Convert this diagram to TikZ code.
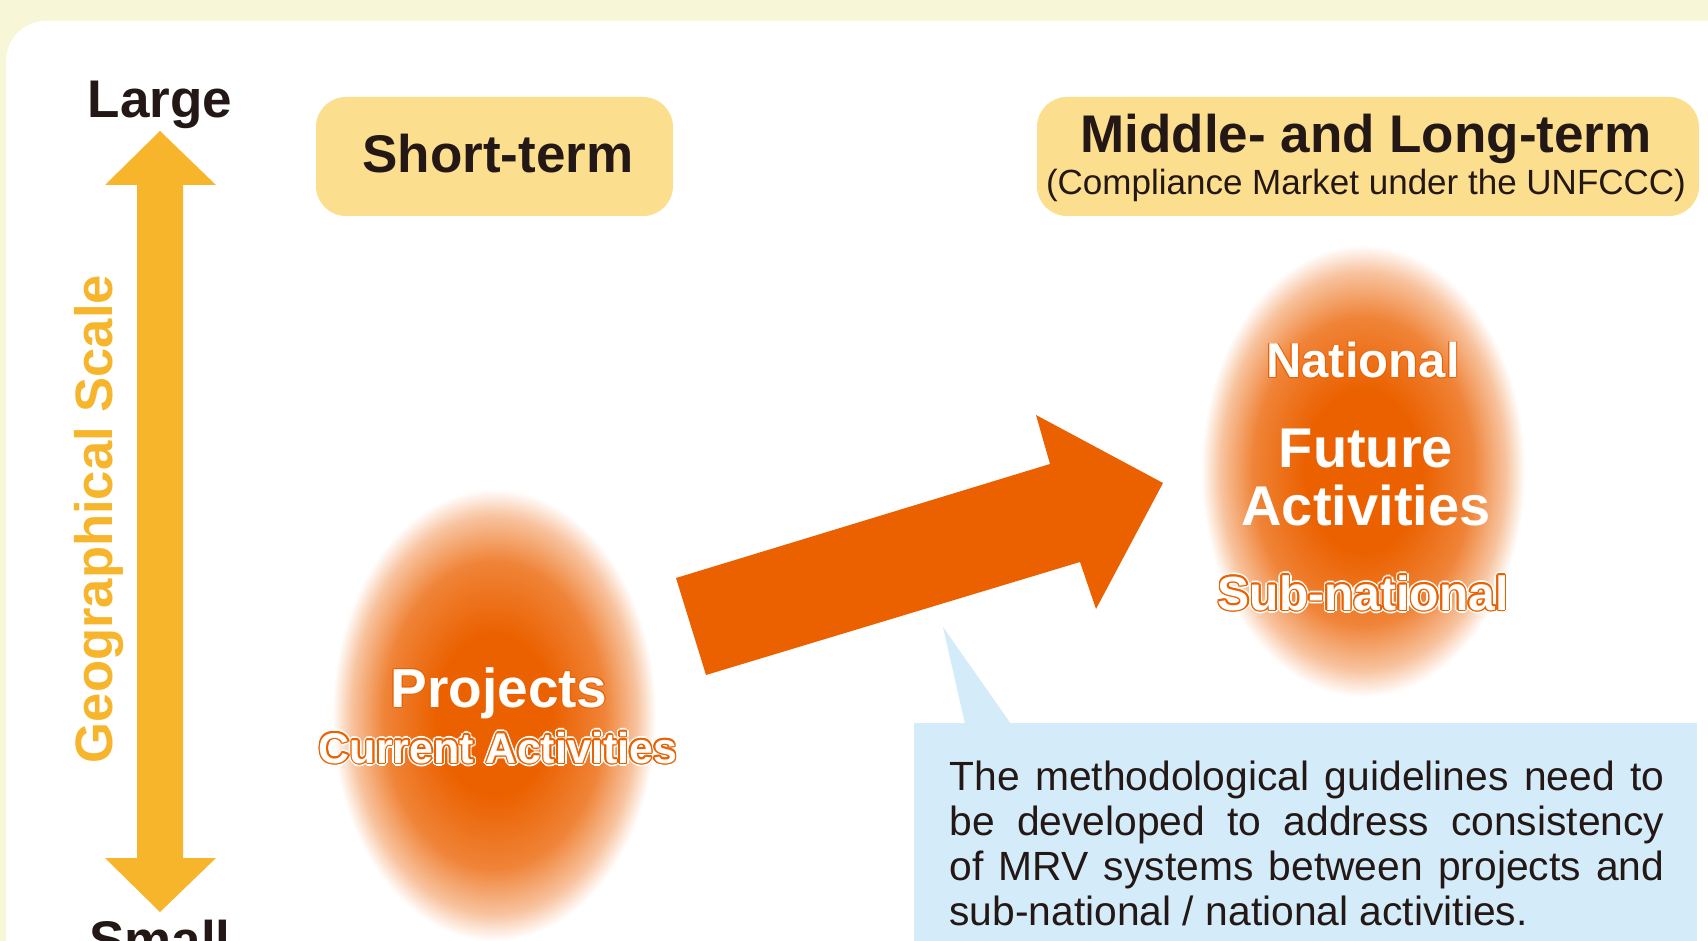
\documentclass[tikz,border=0pt]{standalone}
\usepackage{fontspec}
\setmainfont{Liberation Sans}
\definecolor{cream}{HTML}{F7F7D8}
\definecolor{boxfill}{HTML}{FBDE8E}
\definecolor{ylw}{HTML}{F7B52C}
\definecolor{ornA}{HTML}{EB6100}
\definecolor{sky}{HTML}{D4ECF9}
\definecolor{ink}{HTML}{231815}
\pgfdeclareradialshading{blob}{\pgfpointorigin}{color(0bp)=(ornA); color(9bp)=(ornA);
 color(17bp)=(ornA!78!white); color(22bp)=(ornA!38!white); color(25bp)=(white); color(50bp)=(white)}
% white text, orange rim (and a white halo)
\newcommand\rimtext[4]{%
 \foreach \a in {0,30,...,330}
 \node[#3,text=white,shift={(\a:1.6pt)}] at (#2) {#4};
 \foreach \a in {0,30,...,330}
 \node[#3,text=ornA,shift={(\a:.8pt)}] at (#2) {#4};
 \node[#3,text=white] (#1) at (#2) {#4};}
\newcommand\thintext[4]{%
 \foreach \a in {0,45,...,315}
 \node[#3,text=ornA,shift={(\a:.5pt)}] at (#2) {#4};
 \node[#3,text=white] (#1) at (#2) {#4};}
\begin{document}
\begin{tikzpicture}[x=.5pt,y=-.5pt,
 tag/.style={anchor=base,inner sep=0pt,text=ink,font=\fontsize{26.5}{30}\selectfont\bfseries},
 wt/.style={anchor=base,inner sep=0pt,font=\bfseries\fontsize{#1}{#1}\selectfont},
 term/.style={fill=boxfill,rounded corners=15pt,inner sep=0pt}]
 \useasboundingbox (0,0) rectangle (1708,941);
 \fill[cream] (0,0) rectangle (1708,941);
 \fill[white,rounded corners=20pt] (6,21) rectangle (1780,1000);
 % blobs
 \shade[shading=blob] (494,715) ellipse [x radius=162,y radius=226];
 \shade[shading=blob] (1363,471) ellipse [x radius=162,y radius=226];
 % arrows
 \fill[ylw] (160,131)--(216,185)--(183,185)--(183,858)--(216,858)--(160,912)
 --(105,858)--(137,858)--(137,185)--(105,185)--cycle;
 \fill[ornA] (676,578)--(1050,464)--(1036,415)--(1163,483)--(1096,609)
 --(1080,562)--(706,675)--cycle;
 % callout
 \fill[sky] (914,723) rectangle (1697,960);
 \fill[sky] (965,724)--(943,627)--(1011,724)--cycle;
 \node[term,minimum width=178.5pt,minimum height=59.5pt] (shortbox) at (494.5,156.5) {};
 \node[term,minimum width=331pt,minimum height=59.5pt] (longbox) at (1368,156.5) {};
 \path
 (160,118) node[tag] (large) {Large} % <<< top
 (160,958) node[tag] (small) {Small} % <<< bottom
 (498,173) node[tag] (short) {Short-term}
 (1366,153) node[tag] (long) {Middle- and Long-term}
 ++(0,42) node[tag,font=\fontsize{17.5}{20}\selectfont] (market) {(Compliance Market under the UNFCCC)}
 (112,519) node[tag,rotate=90,text=ylw,font=\fontsize{26.3}{30}\selectfont\bfseries] (geo) {Geographical Scale};
 \thintext{proj}{499,707}{wt=27.5}{Projects}
 \rimtext{curr}{498,763}{wt=21.5}{Current Activities}
 \thintext{nat}{1363,378}{wt=24.5}{National}
 \path
 (1366,467) node[wt=28,text=white] (fut) {Future}
 ++(0,58) node[wt=28,text=white] (act) {Activities};
 \rimtext{sub}{1363,610}{wt=24}{Sub-national}
 \node[anchor=base west,inner sep=0pt,text=ink,font=\fontsize{20.4}{22.5}\selectfont] (note) at (949,790)
 {\parbox[t]{357.5pt}{%
 \makebox[\linewidth][s]{The methodological guidelines need to}\\
 \makebox[\linewidth][s]{be developed to address consistency}\\
 \makebox[\linewidth][s]{of MRV systems between projects and}\\
 sub-national / national activities.}};
\end{tikzpicture}
\end{document}
